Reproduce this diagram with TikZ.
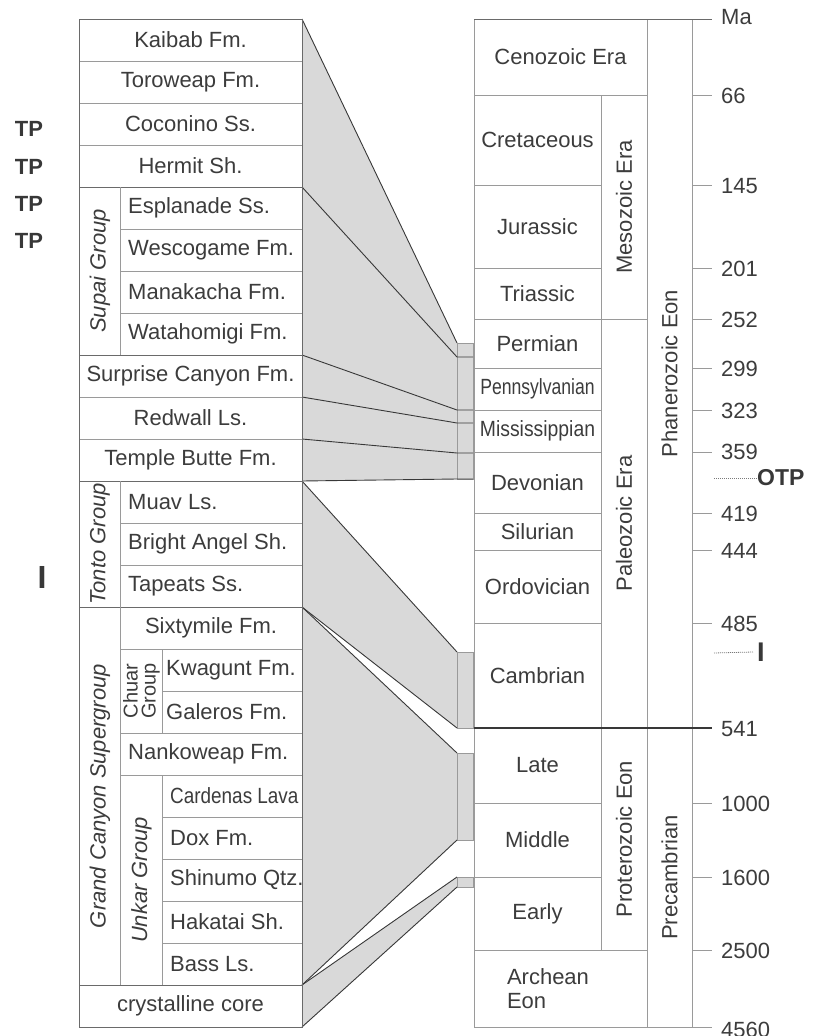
\documentclass[tikz,border=0pt]{standalone}
\usepackage{fontspec}
\usepackage{graphicx}
\setmainfont{Liberation Sans}
\definecolor{bord}{HTML}{9A9A9A}
\definecolor{bordd}{HTML}{6A6A6A}
\definecolor{dk}{HTML}{383838}
\definecolor{shade}{HTML}{D9D9D9}
\definecolor{txt}{HTML}{3C3C3C}
\definecolor{dotc}{HTML}{7A7A7A}
\newcommand\fsz{\fontsize{22}{24}\selectfont}
\tikzset{
  grid/.style={draw=bord, line width=0.9pt},
  gridd/.style={draw=bordd, line width=1pt},
  conn/.style={draw=dk, line width=0.9pt},
  band/.style={fill=shade},
  lbl/.style={text=txt, font=\fsz, inner sep=0pt},
  lblL/.style={lbl, anchor=west},
  vlbl/.style={lbl, rotate=90},
  vlbli/.style={lbl, rotate=90, font=\fsz\itshape},
  flag/.style={text=dk, font=\bfseries\fontsize{22}{24}\selectfont, inner sep=0pt},
  num/.style={lbl, anchor=west},
  dotl/.style={draw=dotc, line width=0.8pt, dash pattern=on 1pt off 1pt},
}
\begin{document}
\begin{tikzpicture}[x=1pt,y=-1pt]
\useasboundingbox (0,0) rectangle (813,1036);

% ---------- connector coordinates ----------
\coordinate (L0) at (302,19);
\coordinate (L1) at (302,187);
\coordinate (L2) at (302,355);
\coordinate (L3) at (302,397);
\coordinate (L4) at (302,439);
\coordinate (L5) at (302,481);
\coordinate (L6) at (302,607);
\coordinate (L7) at (302,985);
\coordinate (L8) at (302,1027);

\coordinate (A0) at (457,343);
\coordinate (A1) at (457,357);
\coordinate (A2) at (457,410);
\coordinate (A3) at (457,423);
\coordinate (A4) at (457,453);
\coordinate (A5) at (457,479);
\coordinate (B0) at (457,652);
\coordinate (B1) at (457,728);
\coordinate (C0) at (457,753);
\coordinate (C1) at (457,840);
\coordinate (D0) at (457,877);
\coordinate (D1) at (457,887);

% ---------- grey bands ----------
\fill[band] (L0) -- (A0) -- (A5) -- (L5) -- cycle;
\fill[band] (L5) -- (B0) -- (B1) -- (L6) -- cycle;
\fill[band] (L6) -- (C0) -- (C1) -- (L7) -- cycle;
\fill[band] (L7) -- (D0) -- (D1) -- (L8) -- cycle;

\draw[grid, fill=shade] (A0) rectangle (473,479);
\draw[grid, fill=shade] (B0) rectangle (473,728);
\draw[grid, fill=shade] (C0) rectangle (473,840);
\draw[grid, fill=shade] (D0) rectangle (473,887);

\draw[conn] (L0) -- (A0);
\draw[conn] (L1) -- (A1) -- (473,357);
\draw[conn] (L2) -- (A2) -- (473,410);
\draw[conn] (L3) -- (A3) -- (473,423);
\draw[conn] (L4) -- (A4) -- (473,453);
\draw[conn] (L5) -- (A5) -- (473,479);
\draw[conn] (L5) -- (B0);
\draw[conn] (L6) -- (B1);
\draw[conn] (L6) -- (C0);
\draw[conn] (L7) -- (C1);
\draw[conn] (L7) -- (D0);
\draw[conn] (L8) -- (D1);

% ---------- left column grid ----------
\foreach \y in {61,103,145,397,439} \draw[grid] (79,\y) -- (302,\y);
\foreach \y in {187,355,481,607,985} \draw[gridd] (79,\y) -- (302,\y);
\foreach \y in {229,271,313,523,565,649,733,775} \draw[grid] (120,\y) -- (302,\y);
\foreach \y in {691,817,859,901,943} \draw[grid] (162,\y) -- (302,\y);
\draw[grid] (120,187) -- (120,355);
\draw[grid] (120,481) -- (120,985);
\draw[grid] (162,649) -- (162,733);
\draw[grid] (162,775) -- (162,985);
\draw[gridd] (79,19) rectangle (302,1027);

% ---------- left column labels ----------
\node[lbl] (kaibab) at (190.5,40) {Kaibab Fm.};
\node[lbl] (toroweap) at (190.5,82) {Toroweap Fm.};
\node[lbl] (coconino) at (190.5,124) {Coconino Ss.};
\node[lbl] (hermit) at (190.5,166) {Hermit Sh.};
\node[lblL] (esplanade) at (128,208) {Esplanade Ss.};
\node[lblL] (wescogame) at (128,250) {Wescogame Fm.};
\node[lblL] (manakacha) at (128,292) {Manakacha Fm.};
\node[lblL] (watahomigi) at (128,334) {Watahomigi Fm.};
\node[lbl] (surprise) at (190.5,376) {Surprise Canyon Fm.};
\node[lbl] (redwall) at (190.5,418) {Redwall Ls.};
\node[lbl] (temple) at (190.5,460) {Temple Butte Fm.};
\node[lblL] (muav) at (128,502) {Muav Ls.};
\node[lblL] (bright) at (128,544) {Bright Angel Sh.};
\node[lblL] (tapeats) at (128,586) {Tapeats Ss.};
\node[lbl] (sixtymile) at (211,628) {Sixtymile Fm.};
\node[lblL] (kwagunt) at (166,670) {Kwagunt Fm.};
\node[lblL] (galeros) at (166,712) {Galeros Fm.};
\node[lblL] (nankoweap) at (128,754) {Nankoweap Fm.};
\node[lblL] (cardenas) at (170,796) {\scalebox{0.86}[1]{Cardenas Lava}};
\node[lblL] (dox) at (170,838) {Dox Fm.};
\node[lblL] (shinumo) at (170,880) {Shinumo Qtz.};
\node[lblL] (hakatai) at (170,922) {Hakatai Sh.};
\node[lblL] (bass) at (170,964) {Bass Ls.};
\node[lbl] (crystal) at (190.5,1006) {crystalline core};

\node[vlbli] (supai) at (100,271) {Supai Group};
\node[vlbli] (tonto) at (100,544) {Tonto Group};
\node[vlbli] (gcsg) at (100,796) {Grand Canyon Supergroup};
\node[vlbl, align=center, font=\fontsize{20}{18}\selectfont] (chuar) at (141.5,691) {Chuar\\Group};
\node[vlbli] (unkar) at (141.5,880) {Unkar Group};

% ---------- side flags ----------
\node[flag] (tp1) at (29,129) {TP};
\node[flag] (tp2) at (29,167) {TP};
\node[flag] (tp3) at (29,204) {TP};
\node[flag] (tp4) at (29,241) {TP};
\node[flag, font=\bfseries\fontsize{32}{34}\selectfont] (iL) at (42,577) {I};

% ---------- right column grid ----------
\foreach \y in {185,268,368,410,452,513,550,623,803,877} \draw[grid] (474,\y) -- (601,\y);
\foreach \y in {95,319,950} \draw[grid] (474,\y) -- (647,\y);
\draw[grid] (601,95) -- (601,950);
\draw[grid] (647,19) -- (647,1027);
\draw[grid] (692,19) -- (692,1027);
\draw[grid] (474,19) -- (474,1027);
\draw[grid] (474,1027) -- (712,1027);
\draw[gridd] (474,19) -- (712,19);
\draw[draw=dk, line width=1.1pt] (474,728) -- (712,728);
\foreach \y in {95,185,268,319,368,410,452,513,550,623,803,877,950} \draw[grid] (692,\y) -- (712,\y);

% ---------- right column labels ----------
\node[lbl] (cenozoic) at (560.5,57) {Cenozoic Era};
\node[lbl] (cretaceous) at (537.5,140) {Cretaceous};
\node[lbl] (jurassic) at (537.5,226.5) {Jurassic};
\node[lbl] (triassic) at (537.5,293.5) {Triassic};
\node[lbl] (permian) at (537.5,343.5) {Permian};
\node[lbl] (penn) at (537.5,389) {\scalebox{0.8}[1]{Pennsylvanian}};
\node[lbl] (miss) at (537.5,431) {\scalebox{0.88}[1]{Mississippian}};
\node[lbl] (devonian) at (537.5,482.5) {Devonian};
\node[lbl] (silurian) at (537.5,531.5) {Silurian};
\node[lbl] (ordovician) at (537.5,586.5) {Ordovician};
\node[lbl] (cambrian) at (537.5,675.5) {Cambrian};
\node[lbl] (late) at (537.5,765.5) {Late};
\node[lbl] (middle) at (537.5,840) {Middle};
\node[lbl] (early) at (537.5,913.5) {Early};
\node[lbl, align=left] (archean) at (548,989) {Archean\\Eon};
\node[vlbl] (mesozoic) at (624,207) {Mesozoic Era};
\node[vlbl] (paleozoic) at (624,523.5) {Paleozoic Era};
\node[vlbl] (proterozoic) at (624,839) {Proterozoic Eon};
\node[vlbl] (phanerozoic) at (669.5,373.5) {Phanerozoic Eon};
\node[vlbl] (precambrian) at (669.5,877.5) {Precambrian};

% ---------- age scale ----------
\node[num] (ma) at (721,17) {Ma};
\node[num] (n66) at (721,96) {66};
\node[num] (n145) at (721,186) {145};
\node[num] (n201) at (721,269) {201};
\node[num] (n252) at (721,320) {252};
\node[num] (n299) at (721,369) {299};
\node[num] (n323) at (721,411) {323};
\node[num] (n359) at (721,452) {359};
\node[num] (n419) at (721,514) {419};
\node[num] (n444) at (721,551) {444};
\node[num] (n485) at (721,624) {485};
\node[num] (n541) at (721,729) {541};
\node[num] (n1000) at (721,804) {1000};
\node[num] (n1600) at (721,878) {1600};
\node[num] (n2500) at (721,951) {2500};
\node[num] (n4560) at (721,1030) {4560};

\coordinate (otpS) at (714,478);
\node[flag, anchor=west, font=\bfseries\fontsize{23}{25}\selectfont] (otp) at (757,478) {OTP};
\draw[dotl] (otpS) -- (otp.west);
\coordinate (iS) at (714,653);
\node[flag, anchor=west, font=\bfseries\fontsize{27}{29}\selectfont] (iR) at (757,652) {I};
\draw[dotl] (iS) -- ([xshift=-4pt]iR.west);
\end{tikzpicture}
\end{document}
